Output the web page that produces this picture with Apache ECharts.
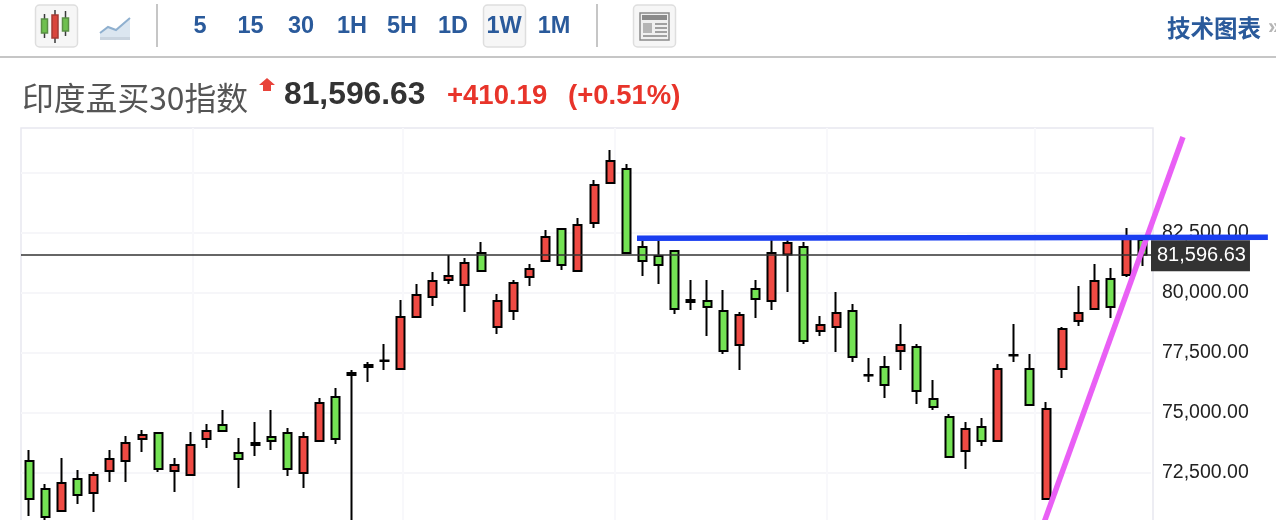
<!DOCTYPE html>
<html>
<head>
<meta charset="utf-8">
<style>html,body{margin:0;padding:0;background:#fff;overflow:hidden}#c{width:1276px;height:520px}</style>
<script src="https://cdn.jsdelivr.net/npm/echarts@6/dist/echarts.min.js"></script>
</head>
<body>
<div id="c"></div>
<script>
const opens = [73000,71833,70917,72250,71667,72583,73000,73917,74167,72583,72417,73917,74500,73333,73667,74000,74167,72500,73833,75667,76583,76917,77167,76833,79000,79833,80542,80333,81667,78583,79250,80667,81333,82667,80917,82917,84583,85167,81917,81542,81750,79625,79667,79250,77833,80167,79667,81604,81917,78417,78583,79250,76563,76917,77583,77750,75583,74833,73417,74417,73833,77396,76833,71417,76833,78833,79333,80583,80750,82208];
const closes = [71417,70667,72083,71583,72417,73083,73750,74083,72667,72833,73667,74250,74250,73083,73750,73833,72667,74000,75417,73917,76667,77000,77188,79000,79917,80500,80708,81250,80917,79667,80417,81000,82333,81167,82833,84500,85500,81667,81333,81167,79333,79708,79417,77583,79083,79750,81667,82083,78000,78667,79167,77333,76583,76167,77833,75917,75250,73167,74333,73833,76833,77417,75333,75167,78500,79167,80500,79417,82292,81596.63];
const lows = [70708,70500,70917,71208,70875,72125,72125,73375,72542,71708,72417,73542,74250,71875,73208,73458,72375,71875,73833,73708,70000,76292,76792,76833,79000,79458,80375,79208,80917,78292,78875,80292,81333,80958,80917,82708,84583,81625,80708,80375,79125,79292,78208,77458,76792,78958,79292,80042,77875,78208,77542,77125,76292,75625,76792,75375,75125,73167,72667,73625,73833,77125,75333,71417,76458,78625,79333,78958,80667,81125];
const highs = [73458,72042,73125,72625,72542,73458,74042,74292,74167,73125,74208,74542,75125,73958,74625,75125,74375,74208,75625,76042,76792,77125,77875,79708,80375,80875,81583,81458,82125,79958,80542,81208,82625,82667,83125,84708,85958,85375,82333,82333,81750,80542,80542,80125,79208,80542,82292,82292,82125,79042,80042,79542,77292,77375,78708,77875,76375,74958,74625,74792,77042,78708,77458,75458,78583,80292,81208,81042,82708,82292];
const weeks = opens.map((_, i) => String(i + 1));
const lastPrice = 81596.63;
const verticalGrid = [10.16, 23.16, 36.3, 49.4, 62.3];
const frameTopValue = 86875;
const axisBottomValue = 70000;
const resistanceLine = [37.66, 82279, 76.74, 82321];
const trendLine = [71.48, 86500, 62.64, 70000];
const intervals = ['5', '15', '30', '1H', '5H', '1D', '1W', '1M'];
const intervalX = [200, 250.5, 301, 352, 402, 453, 504, 554];

const LATIN = '"Liberation Sans", Arial, sans-serif';
const CJK = '"Noto Sans CJK SC", sans-serif';
const BLUE = '#2a5a9b';
const fmt = v => v.toLocaleString('en-US', {minimumFractionDigits: 2, maximumFractionDigits: 2});

const rule = (x1, y1, x2, y2, c, w) => ({type: 'line', shape: {x1, y1, x2, y2}, style: {stroke: c, lineWidth: w}, silent: true});
const box = (x, y, width, height, fill, stroke, r) => ({type: 'rect', shape: {x, y, width, height, r: r || 0}, style: {fill, stroke, lineWidth: stroke ? 1.5 : 0}, silent: true});
const txt = (x, y, text, font, fill, align) => ({type: 'text', x, y, style: {text, font, fill, align: align || 'left', verticalAlign: 'middle'}, silent: true});

const graphic = [
  // plot frame
  box(21, 128, 1132, 420, 'transparent', '#e8e8f0'),
  // toolbar
  rule(0, 57, 1276, 57, '#c6c6c6', 2),
  box(35.5, 5, 42, 42, '#f6f6f6', '#dedede', 4),
  rule(44.5, 14, 44.5, 38, '#3a3a3a', 1.5), box(41.5, 19, 6, 14, '#6fc04f', '#5a8f45'),
  rule(55, 10, 55, 43, '#3a3a3a', 1.5), box(52, 15, 6, 23, '#d9453c', '#a43a33'),
  rule(65.5, 11, 65.5, 36, '#3a3a3a', 1.5), box(62.5, 18, 6, 13, '#6fc04f', '#5a8f45'),
  {type: 'polygon', shape: {points: [[100, 33], [108, 27], [116, 30], [130, 19], [130, 37], [100, 37]]}, style: {fill: '#dbe6f0'}, silent: true},
  {type: 'polyline', shape: {points: [[100, 33], [108, 27], [116, 30], [130, 18]]}, style: {stroke: '#8fb0cf', lineWidth: 2, fill: 'none'}, silent: true},
  box(100, 37, 30, 3, '#c9d4df'),
  rule(157, 4, 157, 47, '#c6c6c6', 2),
  box(483.5, 5, 42, 42, '#f6f6f6', '#dedede', 4),
  rule(597, 4, 597, 47, '#c6c6c6', 2),
  box(633.5, 5, 42, 42, '#f6f6f6', '#dedede', 4),
  box(640, 13, 29, 27, '#f0f0f0', '#8a8a8a'),
  box(642, 15, 25, 5, '#8a8a8a'),
  box(643, 23, 9, 10, '#b5b5b5'),
  rule(655, 24, 667, 24, '#a0a0a0', 2), rule(655, 28, 667, 28, '#a0a0a0', 2), rule(655, 32, 667, 32, '#a0a0a0', 2), rule(643, 36, 667, 36, '#a0a0a0', 2),
  ...intervals.map((t, i) => txt(intervalX[i], 26.5, t, `bold 23.5px ${LATIN}`, BLUE, 'center')),
  txt(1167, 28, '技术图表', `bold 23.5px ${CJK}`, BLUE),
  txt(1268, 28, '»', `bold 22px ${LATIN}`, '#b5b5b5'),
  // title row
  txt(22, 98, '印度孟买30指数', `400 31.8px ${CJK}`, '#555555'),
  {type: 'polygon', shape: {points: [[267, 78], [275, 85], [271, 85], [271, 91], [263, 91], [263, 85], [259, 85]]}, style: {fill: '#e8433a'}, silent: true},
  txt(284, 95, '81,596.63', `bold 31.8px ${LATIN}`, '#333333'),
  txt(447, 96, '+410.19', `bold 27.5px ${LATIN}`, '#e8342a'),
  txt(568, 96, '(+0.51%)', `bold 27.5px ${LATIN}`, '#e8342a')
];

const drawSegment = (params, api) => {
  const a = api.coord([api.value(0), api.value(1)]);
  const b = api.coord([api.value(2), api.value(3)]);
  return {type: 'line', shape: {x1: a[0], y1: a[1], x2: b[0], y2: b[1]}, style: {stroke: api.visual('color'), lineWidth: 5.5}};
};

const chart = echarts.init(document.getElementById('c'));
chart.setOption({
  animation: false,
  backgroundColor: '#ffffff',
  graphic,
  grid: {left: 21, top: 113, width: 1130, height: 420, outerBoundsMode: 'none'},
  xAxis: [
    {type: 'category', data: weeks, boundaryGap: true, axisLine: {show: false}, axisTick: {show: false}, axisLabel: {show: false}, splitLine: {show: false}},
    {type: 'value', min: -0.5, max: 69.5, show: false, splitLine: {show: false}}
  ],
  yAxis: {
    type: 'value', position: 'right', min: 70000, max: 87500, interval: 2500, scale: true,
    axisLine: {show: false}, axisTick: {show: false},
    splitLine: {show: true, showMaxLine: false, showMinLine: false, lineStyle: {color: '#f6f6f9', width: 2}},
    axisLabel: {
      show: true, margin: 11, color: '#222222', fontSize: 19.5, fontFamily: LATIN, align: 'left', padding: [2, 0, 0, 0],
      formatter: v => (v > 82500 || v < 72500) ? '' : fmt(v)
    }
  },
  series: [
    {
      type: 'line', name: 'grid', xAxisIndex: 1, data: [], z: 1, silent: true,
      markLine: {silent: true, z: 1, symbol: 'none', label: {show: false}, lineStyle: {color: '#f8f8fb', width: 2, type: 'solid'},
        data: verticalGrid.map(x => [{coord: [x, frameTopValue]}, {coord: [x, axisBottomValue]}])}
    },
    {
      type: 'candlestick', name: '印度孟买30指数', xAxisIndex: 0, barWidth: 8.5, z: 2, clip: true,
      data: opens.map((o, i) => [o, closes[i], lows[i], highs[i]]),
      itemStyle: {color: '#ef4a43', color0: '#74e354', borderColor: '#000000', borderColor0: '#000000', borderColorDoji: '#000000', borderWidth: 2},
      markLine: {
        silent: true, symbol: 'none', z: 3,
        lineStyle: {color: '#333333', width: 1.5, type: 'solid'},
        label: {show: true, position: 'end', distance: 0, offset: [0, 1], formatter: () => fmt(lastPrice), color: '#ffffff', fontSize: 20, fontFamily: LATIN, backgroundColor: '#333333', padding: [7, 4, 4, 6]},
        data: [{yAxis: lastPrice}]
      }
    },
    {type: 'custom', name: 'trend', xAxisIndex: 1, data: [trendLine], encode: {x: [0, 2], y: [1, 3]}, renderItem: drawSegment, clip: false, z: 6, silent: true, itemStyle: {color: '#e95ff5'}},
    {type: 'custom', name: 'resistance', xAxisIndex: 1, data: [resistanceLine], encode: {x: [0, 2], y: [1, 3]}, renderItem: drawSegment, clip: false, z: 7, silent: true, itemStyle: {color: '#1a3ef0'}}
  ]
});
</script>
</body>
</html>
